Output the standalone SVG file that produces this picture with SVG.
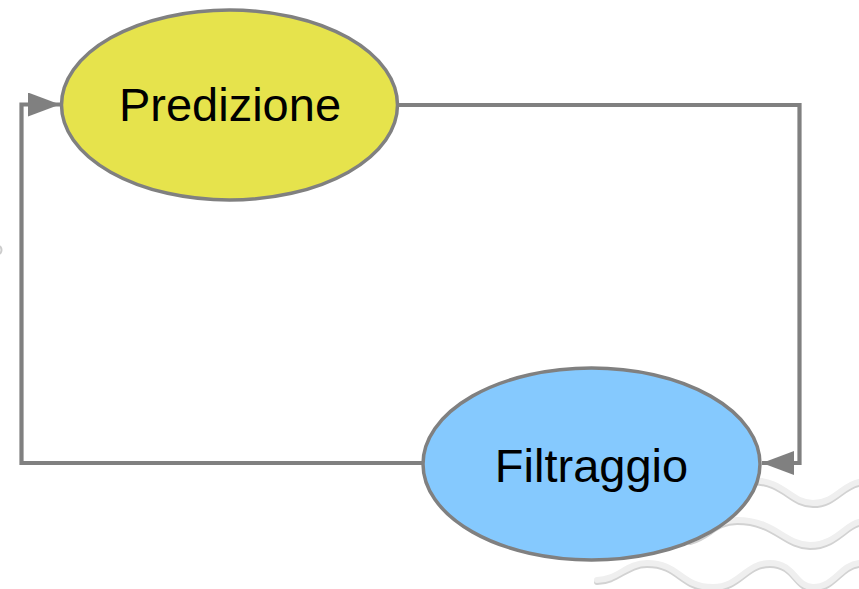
<svg xmlns="http://www.w3.org/2000/svg" width="859" height="589" viewBox="0 0 859 589">
<defs>
<style>
.node{stroke:#808080;stroke-width:3.5}
.lbl{font-family:"Liberation Sans",Arial,sans-serif;font-size:47px;fill:#000;text-anchor:middle}
.conn{fill:none;stroke:#808080;stroke-width:4.2}
.wave{fill:none;stroke:#efefef;stroke-width:6;stroke-linecap:round}
.waveShade{fill:none;stroke:#d2d2d2;stroke-width:6;stroke-linecap:round}
</style>
<marker id="arr" viewBox="0 0 32 24" refX="32" refY="12" markerWidth="32" markerHeight="24" markerUnits="userSpaceOnUse" orient="auto">
<path d="M0,0 L32,12 L0,24 Z" fill="#808080"/>
</marker>
</defs>
<g id="decor">
<path class="waveShade" transform="translate(0,2)" d="M597,580 C617,580 627,563 647,563 C680,563 680,587 713,587 C740,587 745,563 770,563 C795,563 795,587 813,587 C835,587 840,565 859,563"/>
<path class="wave" d="M597,580 C617,580 627,563 647,563 C680,563 680,587 713,587 C740,587 745,563 770,563 C795,563 795,587 813,587 C835,587 840,565 859,563"/>
<path class="waveShade" transform="translate(0,2)" d="M690,540 C710,535 715,520 737,520 C775,520 785,545 810,545 C835,545 845,525 859,522"/>
<path class="wave" d="M690,540 C710,535 715,520 737,520 C775,520 785,545 810,545 C835,545 845,525 859,522"/>
<path class="waveShade" transform="translate(0,2)" d="M750,480 C785,480 790,503 813,503 C835,503 842,485 859,482"/>
<path class="wave" d="M750,480 C785,480 790,503 813,503 C835,503 842,485 859,482"/>
<path d="M0,246 Q3,250 0,254" fill="none" stroke="#cccccc" stroke-width="2"/>
</g>
<g id="connectors">
<path class="conn" d="M397,105 H799.5 V463 H762" marker-end="url(#arr)"/>
<path class="conn" d="M423,463 H21.5 V104.5 H60" marker-end="url(#arr)"/>
</g>
<g id="predizione">
<ellipse class="node" cx="229.5" cy="105" rx="168" ry="95" fill="#e6e34c"/>
<text class="lbl" x="230" y="121">Predizione</text>
</g>
<g id="filtraggio">
<ellipse class="node" cx="591.5" cy="464" rx="168.5" ry="96" fill="#85c9fe"/>
<text class="lbl" x="591.5" y="481.5">Filtraggio</text>
</g>
</svg>
